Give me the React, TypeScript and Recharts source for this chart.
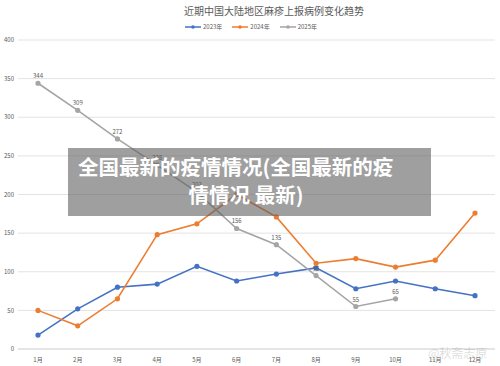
import React from "react";
import { LineChart, Line, XAxis, YAxis, CartesianGrid, LabelList } from "recharts";

const months = ["1月", "2月", "3月", "4月", "5月", "6月", "7月", "8月", "9月", "10月", "11月", "12月"];
const cases2023 = [18, 52, 80, 84, 107, 88, 97, 105, 78, 88, 78, 69];
const cases2024 = [50, 30, 65, 148, 162, 200, 171, 111, 117, 106, 115, 176];
const cases2025: (number | null)[] = [344, 309, 272, 238, 203, 156, 135, 95, 55, 65, null, null];
const yTicks = [0, 50, 100, 150, 200, 250, 300, 350, 400];

const seriesInfo = [
  { key: "y2023", name: "2023年", color: "#4472C4" },
  { key: "y2024", name: "2024年", color: "#ED7D31" },
  { key: "y2025", name: "2025年", color: "#A5A5A5" },
];

const data = months.map((m, i) => ({
  month: m,
  y2023: cases2023[i],
  y2024: cases2024[i],
  y2025: cases2025[i],
}));

const FONT = '"Noto Sans CJK SC", "Noto Sans", sans-serif';

function TopLegend() {
  return (
    <div style={{ display: "flex", justifyContent: "center", gap: 10, fontSize: 6, color: "#595959", fontFamily: FONT }}>
      {seriesInfo.map((s) => (
        <div key={s.key} style={{ display: "flex", alignItems: "center", gap: 2 }}>
          <svg width={16} height={6}>
            <line x1={0} y1={3} x2={16} y2={3} stroke={s.color} strokeWidth={1.5} />
            <circle cx={8} cy={3} r={1.8} fill={s.color} />
          </svg>
          <span>{s.name}</span>
        </div>
      ))}
    </div>
  );
}

export default function App() {
  return (
    <div style={{ position: "absolute", left: 0, top: 0, width: 500, height: 366, background: "#fff", fontFamily: FONT, overflow: "hidden" }}>
      <div style={{ position: "absolute", left: 0, top: 3, width: 548, textAlign: "center", fontSize: 10, color: "#595959" }}>
        近期中国大陆地区麻疹上报病例变化趋势
      </div>
      <div style={{ position: "absolute", left: 0, top: 22, width: 502 }}>
        <TopLegend />
      </div>
      <LineChart width={500} height={366} data={data} margin={{ top: 40, right: 5, left: 0, bottom: 0 }}>
        <CartesianGrid vertical={false} stroke="#e3e3e3" />
        <XAxis
          dataKey="month"
          height={17}
          padding={{ left: 20, right: 20 }}
          axisLine={{ stroke: "#d9d9d9" }}
          tickLine={false}
          tick={{ fontSize: 6, fill: "#595959" }}
          tickMargin={3}
          interval={0}
        />
        <YAxis
          width={18}
          domain={[0, 400]}
          ticks={yTicks}
          axisLine={false}
          tickLine={false}
          tickSize={0}
          tick={{ fontSize: 6, fill: "#595959" }}
          tickMargin={4}
        />
        <Line type="linear" dataKey="y2023" name="2023年" stroke="#4472C4" strokeWidth={1.6} dot={{ r: 1.8, fill: "#4472C4", stroke: "#4472C4" }} isAnimationActive={false} />
        <Line type="linear" dataKey="y2024" name="2024年" stroke="#ED7D31" strokeWidth={1.6} dot={{ r: 1.8, fill: "#ED7D31", stroke: "#ED7D31" }} isAnimationActive={false} />
        <Line type="linear" dataKey="y2025" name="2025年" stroke="#A5A5A5" strokeWidth={1.6} dot={{ r: 1.8, fill: "#A5A5A5", stroke: "#A5A5A5" }} isAnimationActive={false}>
          <LabelList dataKey="y2025" position="top" offset={5} style={{ fontSize: 6, fill: "#595959" }} />
        </Line>
      </LineChart>
      <div style={{ position: "absolute", left: 68, top: 148, width: 363, height: 68, background: "rgba(95,95,95,0.6)" }} />
      <div style={{ position: "absolute", left: 78, top: 152, fontSize: 20.5, fontWeight: 700, color: "#fff", whiteSpace: "nowrap", lineHeight: "28px" }}>
        全国最新的疫情情况(全国最新的疫
      </div>
      <div style={{ position: "absolute", left: 68, top: 180, width: 356, textAlign: "center", fontSize: 20.5, fontWeight: 700, color: "#fff", whiteSpace: "nowrap", lineHeight: "28px" }}>
        情情况 最新)
      </div>
      <div style={{ position: "absolute", left: 428, top: 344, fontSize: 12, color: "rgba(160,160,160,0.35)", whiteSpace: "nowrap" }}>
        @秋斋志原
      </div>
    </div>
  );
}
